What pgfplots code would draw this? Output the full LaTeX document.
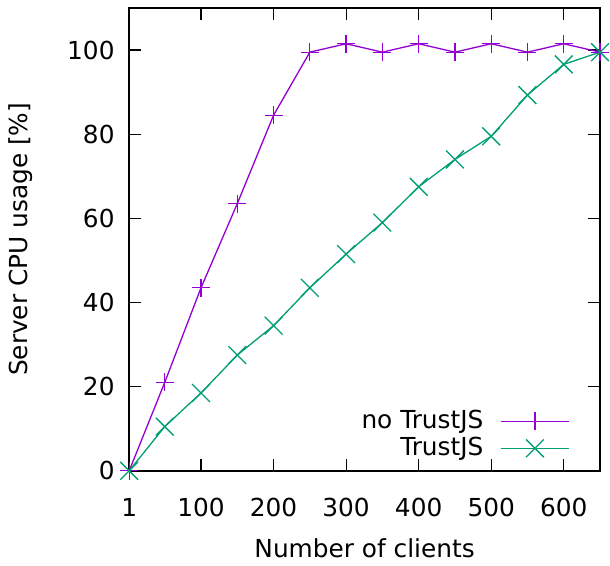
\documentclass[border=0pt]{standalone}
\usepackage{fontspec}
\setmainfont{DejaVu Sans}
\usepackage{pgfplots}
\pgfplotsset{compat=1.18}

\definecolor{gpviolet}{HTML}{9400D3}
\definecolor{gpgreen}{HTML}{009E73}

\pgfplotstableread{
x    notrust  trust
1    0        0
50   21       10.5
100  43.5     18.5
150  63.5     27.5
200  84.5     34.5
250  99.5     43.5
300  101.5    51.5
350  99.5     59
400  101.5    67.5
450  99.5     74
500  101.5    79.5
550  99.5     89.3
600  101.5    96.6
650  99.5     99.5
}\cpudata

\begin{document}
\fontsize{12.4}{14.9}\selectfont
\begin{tikzpicture}
\begin{axis}[
  scale only axis,
  width=235.5pt, height=231.5pt,
  xmin=1, xmax=650,
  ymin=0, ymax=110,
  xtick={1,100,200,300,400,500,600},
  ytick={0,20,40,60,80,100},
  /pgf/number format/assume math mode=true,
  tick label style={font=\fontsize{12.4}{14.9}\selectfont},
  label style={font=\fontsize{12.4}{14.9}\selectfont},
  xlabel={Number of clients},
  ylabel={Server CPU usage [\%]},
  xlabel style={at={(axis description cs:0.5,-0.1663)}, anchor=center},
  ylabel style={at={(axis description cs:-0.2314,0.5)}, anchor=center},
  xticklabel style={yshift=-9.5pt},
  yticklabel style={xshift=-3pt},
  major tick length=6pt,
  tick style={black, line width=0.6pt},
  axis line style={line width=0.75pt},
  legend plot pos=right,
  legend cell align=right,
  legend style={draw=none, fill=none, at={(1,0)}, anchor=south east,
    xshift=-12pt, yshift=2pt, row sep=-0.5pt,
    nodes={inner sep=1.5pt},
    /tikz/every odd column/.append style={column sep=7pt},
    font=\fontsize{12.4}{14.9}\selectfont},
  legend image code/.code={
    \draw[mark repeat=2, mark phase=2, #1] plot coordinates {(0pt,0pt) (17pt,0pt) (34pt,0pt)};},
]
\addplot[gpviolet, line width=0.65pt, mark=+, mark size=4.5pt] table[x=x, y=notrust] {\cpudata};
\addlegendentry{no TrustJS}
\addplot[gpgreen, line width=0.65pt, mark=x, mark size=6.3pt] table[x=x, y=trust] {\cpudata};
\addlegendentry{TrustJS}
\end{axis}
\useasboundingbox (-64.5pt,-45.5pt) rectangle (240.5pt,235.5pt);
\end{tikzpicture}
\end{document}
